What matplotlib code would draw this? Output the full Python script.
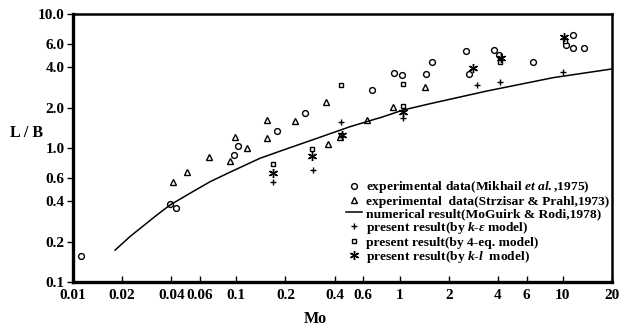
import matplotlib
matplotlib.use("Agg")
import matplotlib.pyplot as plt

plt.rcParams['font.family'] = ['Liberation Serif', 'DejaVu Serif']
plt.rcParams['mathtext.fontset'] = 'custom'
plt.rcParams['mathtext.rm'] = 'Liberation Serif:bold'
plt.rcParams['mathtext.it'] = 'Liberation Serif:italic:bold'

# Experimental data (Mikhail et al., 1975) - circles
mik_mo = [0.0112, 0.039, 0.0427, 0.097, 0.103, 0.177, 0.264, 0.68, 0.925, 1.04,
          1.45, 1.57, 2.54, 2.65, 3.8, 4.06, 6.55, 10.4, 11.5, 11.5, 13.5]
mik_lb = [0.157, 0.385, 0.358, 0.88, 1.035, 1.346, 1.815, 2.72, 3.65, 3.48,
          3.56, 4.36, 5.29, 3.57, 5.35, 4.94, 4.40, 5.84, 7.0, 5.6, 5.6]

# Experimental data (Strzisar & Prahl, 1973) - triangles
str_mo = [0.0411, 0.0497, 0.068, 0.0915, 0.098, 0.117, 0.1535, 0.155, 0.229,
          0.352, 0.367, 0.431, 0.635, 0.907, 1.43]
str_lb = [0.556, 0.66, 0.85, 0.795, 1.21, 1.0, 1.618, 1.18, 1.595,
          2.19, 1.066, 1.214, 1.62, 2.01, 2.85]

# Numerical result (McGuirk & Rodi, 1978) - line
num_mo = [0.0181, 0.0223, 0.0269, 0.0326, 0.0393, 0.052, 0.069, 0.0915, 0.1396,
          0.194, 0.311, 0.497, 0.794, 1.05, 1.535, 3.415, 8.73, 20.0]
num_lb = [0.173, 0.218, 0.262, 0.316, 0.376, 0.459, 0.56, 0.66, 0.838,
          0.966, 1.18, 1.442, 1.712, 1.92, 2.14, 2.66, 3.35, 3.89]

# Present result k-e model - plus
ke_mo = [0.1685, 0.294, 0.435, 1.045, 3.0, 4.12, 10.0]
ke_lb = [0.556, 0.69, 1.57, 1.67, 2.97, 3.09, 3.68]

# Present result 4-eq model - squares
q4_mo = [0.1685, 0.29, 0.435, 0.44, 1.045, 1.045, 4.12, 10.3]
q4_lb = [0.765, 0.98, 2.95, 1.24, 3.0, 2.06, 4.41, 6.25]

# Present result k-l model - asterisks
kl_mo = [0.1685, 0.29, 0.447, 1.045, 2.83, 4.2, 10.2]
kl_lb = [0.648, 0.875, 1.25, 1.87, 3.97, 4.7, 6.77]

xticks = [0.01, 0.02, 0.04, 0.06, 0.1, 0.2, 0.4, 0.6, 1, 2, 4, 6, 10, 20]
xticklabels = ['0.01', '0.02', '0.04', '0.06', '0.1', '0.2', '0.4', '0.6', '1', '2', '4', '6', '10', '20']
yticks = [0.1, 0.2, 0.4, 0.6, 1.0, 2.0, 4.0, 6.0, 10.0]
yticklabels = ['0.1', '0.2', '0.4', '0.6', '1.0', '2.0', '4.0', '6.0', '10.0']

fig = plt.figure(figsize=(6.21, 3.31), dpi=100)
ax = fig.add_axes([0.1176, 0.148, 0.8679, 0.8097])
ax.set_xscale('log')
ax.set_yscale('log')
ax.set_xlim(0.01, 20)
ax.set_ylim(0.1, 10)

ax.plot(mik_mo, mik_lb, linestyle='none', marker='o', ms=4.2, mfc='white', mec='black', mew=1.0,
        label=r'experimental data(Mikhail $\it{et\ al.}$,1975)')
ax.plot(str_mo, str_lb, linestyle='none', marker='^', ms=4.5, mfc='white', mec='black', mew=1.0,
        label='experimental  data(Strzisar & Prahl,1973)')
ax.plot(num_mo, num_lb, color='black', lw=1.1,
        label='numerical result(MoGuirk & Rodi,1978)')
ax.plot(ke_mo, ke_lb, linestyle='none', marker='+', ms=4.5, mec='black', mew=1.0,
        label=r'present result(by $\it{k}$-$\it{\varepsilon}$ model)')
ax.plot(q4_mo, q4_lb, linestyle='none', marker='s', ms=3.4, mfc='white', mec='black', mew=1.0,
        label='present result(by 4-eq. model)')
ax.plot(kl_mo, kl_lb, linestyle='none', marker=(6, 2, 0), ms=6.5, mec='black', mew=1.0,
        label=r'present result(by $\it{k}$-$\it{l}$  model)')

ax.minorticks_off()
ax.set_xticks(xticks)
ax.set_xticklabels(xticklabels)
ax.set_yticks(yticks)
ax.set_yticklabels(yticklabels)
ax.tick_params(axis='x', direction='in', length=4, width=1.0, labelsize=11, pad=5)
ax.tick_params(axis='y', direction='out', length=4, width=1.0, labelsize=11, pad=2)
for lab in ax.get_xticklabels() + ax.get_yticklabels():
    lab.set_fontweight('bold')

for side in ['left', 'bottom']:
    ax.spines[side].set_linewidth(2.4)
for side in ['top', 'right']:
    ax.spines[side].set_linewidth(1.8)

leg = ax.legend(loc='lower right', bbox_to_anchor=(0.997, 0.06), frameon=False,
                handlelength=1.2, handletextpad=0.3, labelspacing=0.0,
                borderaxespad=0.0, borderpad=0.1,
                prop={'weight': 'bold', 'size': 9.7})

fig.text(0.043, 0.598, 'L / B', ha='center', va='center', fontsize=11.5, fontweight='bold')
fig.text(0.507, 0.036, 'Mo', ha='center', va='center', fontsize=11.5, fontweight='bold')

fig.savefig('out.png', dpi=100)
